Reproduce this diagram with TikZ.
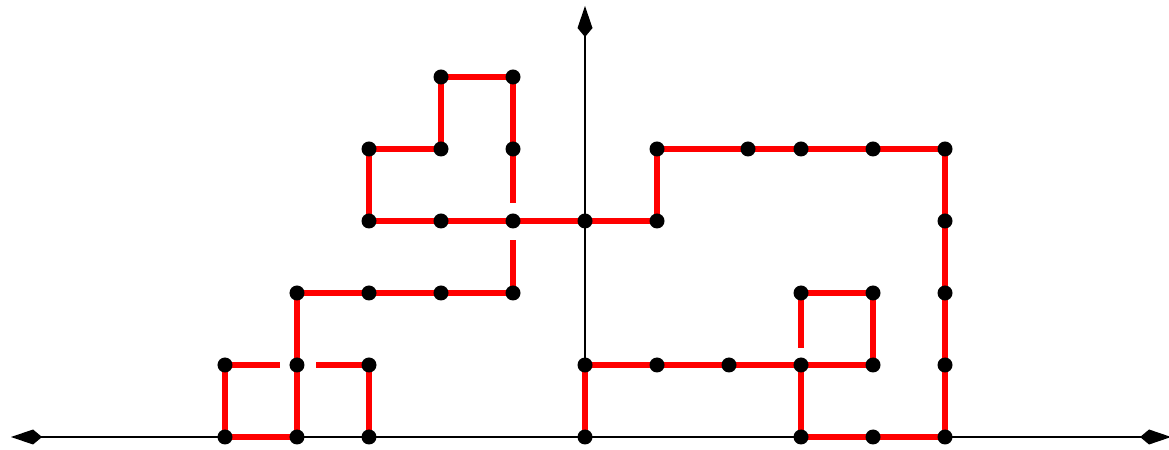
\documentclass[tikz,border=0pt]{standalone}
\usetikzlibrary{arrows.meta,backgrounds}
\begin{document}
\begin{tikzpicture}[x=72pt,y=72pt,
  dot/.style={circle,fill=black,inner sep=0pt,minimum size=15pt},
  trail/.style={draw={rgb,255:red,255;green,0;blue,0},line width=6.5pt},
  axisline/.style={draw=black,line width=2.5pt},
  >={Kite[length=31pt,width=15pt,inset=9pt]}]
\useasboundingbox (-8.125,-0.1667) rectangle (8.111,6.0694);
% lattice points
\foreach \c/\r in {0/0,1/0,2/0,5/0,8/0,9/0,10/0,
  0/1,1/1,2/1,5/1,6/1,7/1,8/1,9/1,10/1,
  1/2,2/2,3/2,4/2,8/2,9/2,10/2,
  2/3,3/3,4/3,5/3,6/3,10/3,
  2/4,3/4,4/4,6/4,8/4,9/4,10/4,
  3/5,4/5}
  \node[dot] (p\c r\r) at (\c-5,\r) {};
\node[dot] (q) at (2.264,4) {};
\coordinate (xl) at (-7.972,0);
\coordinate (xr) at (8.14,0);
\coordinate (yt) at (0,5.986);
\begin{scope}[on background layer]
  \draw[axisline,<->] (xl) -- (xr);
  \draw[axisline,->] (p5r0.center) -- (yt);
  % red walk
  \draw[trail] (p0r1.center) -- (p0r0.center) -- (p1r0.center) -- (p1r1.center) -- (p1r2.center)
    -- (p2r2.center) -- (p3r2.center) -- (p4r2.center);
  \draw[trail,shorten >=19pt] (p4r2.center) -- (p4r3.center);
  \draw[trail,shorten >=18pt] (p4r4.center) -- (p4r3.center);
  \draw[trail] (p4r4.center) -- (p4r5.center) -- (p3r5.center) -- (p3r4.center) -- (p2r4.center)
    -- (p2r3.center) -- (p3r3.center) -- (p4r3.center) -- (p5r3.center) -- (p6r3.center)
    -- (p6r4.center) -- (q.center) -- (p8r4.center) -- (p9r4.center) -- (p10r4.center)
    -- (p10r3.center) -- (p10r2.center) -- (p10r1.center) -- (p10r0.center)
    -- (p9r0.center) -- (p8r0.center) -- (p8r1.center) -- (p9r1.center) -- (p9r2.center) -- (p8r2.center);
  \draw[trail,shorten >=17pt] (p8r2.center) -- (p8r1.center);
  \draw[trail] (p8r1.center) -- (p7r1.center) -- (p6r1.center) -- (p5r1.center) -- (p5r0.center);
  \draw[trail,shorten >=17pt] (p0r1.center) -- (p1r1.center);
  \draw[trail,shorten >=19pt] (p2r1.center) -- (p1r1.center);
  \draw[trail] (p2r1.center) -- (p2r0.center);
\end{scope}
\end{tikzpicture}
\end{document}
